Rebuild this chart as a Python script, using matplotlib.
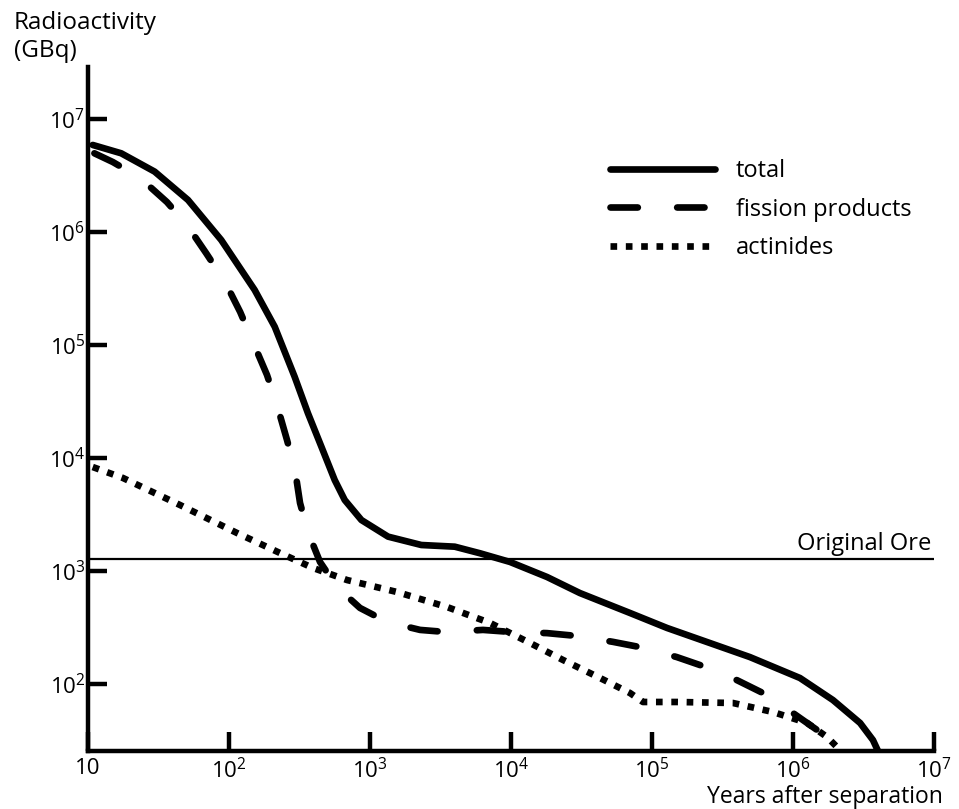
import matplotlib
matplotlib.use("Agg")
import matplotlib.pyplot as plt

plt.rcParams['font.family'] = ['Open Sans', 'DejaVu Sans']
plt.rcParams['mathtext.fontset'] = 'custom'
plt.rcParams['mathtext.rm'] = 'Open Sans'
plt.rcParams['mathtext.it'] = 'Open Sans:italic'
plt.rcParams['mathtext.bf'] = 'Open Sans:bold'

# values: years after separation -> radioactivity (GBq)
total_years = [10.8, 17.2, 29.7, 51.2, 88.1, 152, 211, 292, 363, 452, 562, 662, 869,
               1343, 2312, 3990, 6026, 9840, 1.80e4, 3.08e4, 6.98e4, 1.28e5, 4.95e5,
               1.12e6, 1.92e6, 2.99e6, 3.69e6, 4.01e6]
total_gbq = [5.89e6, 4.97e6, 3.42e6, 1.92e6, 8.49e5, 3.07e5, 1.45e5, 5.24e4, 2.49e4,
             1.26e4, 6380, 4246, 2825, 2014, 1698, 1641, 1435, 1202, 885, 638, 425, 313,
             173, 113, 72.1, 45.2, 31.9, 25.5]

fission_years = [11.1, 15.0, 23.4, 36.3, 50.4, 69.0, 93.8, 120, 148, 186, 219, 258, 294,
                 319, 363, 442, 583, 849, 1321, 2265, 3516, 6324, 1.03e4, 1.80e4, 2.94e4,
                 5.28e4, 8.22e4, 1.50e5, 2.30e5, 4.01e5, 6.12e5, 1.0e6, 1.48e6, 1.92e6]
fission_gbq = [4.97e6, 4.16e6, 3.01e6, 1.84e6, 1.15e6, 6.47e5, 3.61e5, 1.96e5, 1.06e5,
               5.43e4, 2.94e4, 1.44e4, 7830, 4000, 2213, 1202, 721, 471, 354, 301, 288,
               301, 288, 282, 266, 236, 212, 173, 144, 108, 83.2, 55.3, 39.2, 27.2]

actinide_years = [10.8, 17.7, 44.9, 114, 230, 394, 687, 1552, 3516, 7096, 1.36e4, 2.34e4,
                  4.28e4, 6.98e4, 8.63e4, 1.50e5, 3.75e5, 7.21e5, 1.26e6, 1.74e6, 2.15e6]
actinide_gbq = [8318, 6653, 3837, 2168, 1442, 1064, 832, 652, 480, 347, 231, 163, 113,
                83.2, 69.3, 69.3, 67.9, 56.5, 45.2, 34.0, 26.1]

original_ore = 1276

x_ticks = [10, 1e2, 1e3, 1e4, 1e5, 1e6, 1e7]
x_tick_labels = ['10', r'$10^{2}$', r'$10^{3}$', r'$10^{4}$', r'$10^{5}$', r'$10^{6}$', r'$10^{7}$']
y_ticks = [1e2, 1e3, 1e4, 1e5, 1e6, 1e7]
y_tick_labels = [r'$10^{2}$', r'$10^{3}$', r'$10^{4}$', r'$10^{5}$', r'$10^{6}$', r'$10^{7}$']

W, H = 959, 809
fig = plt.figure(figsize=(W / 100, H / 100), dpi=100)
ax = fig.add_axes([88 / W, 58 / H, (934 - 88) / W, (751 - 67) / H])

lw = 4.8
ax.plot(total_years, total_gbq, color='black', lw=lw, solid_capstyle='round',
        solid_joinstyle='round', label='total')
ax.plot(fission_years, fission_gbq, color='black', lw=lw, linestyle=(0, (4.1, 5.9)),
        dash_capstyle='round', dash_joinstyle='round', label='fission products')
ax.plot(actinide_years, actinide_gbq, color='black', lw=lw, linestyle=(0, (1.0, 1.3)),
        dash_capstyle='butt', label='actinides')

ax.axhline(original_ore, color='black', lw=1.6, zorder=1)
ax.annotate('Original Ore', xy=(1e7, original_ore), xytext=(-2, 6.5),
            textcoords='offset points', ha='right', va='baseline', fontsize=17)

ax.set_xscale('log')
ax.set_yscale('log')
ax.set_xlim(10, 1e7)
ax.set_ylim(10 ** 1.407, 10 ** 7.46)
ax.minorticks_off()
ax.set_xticks(x_ticks)
ax.set_xticklabels(x_tick_labels)
ax.set_yticks(y_ticks)
ax.set_yticklabels(y_tick_labels)
ax.tick_params(direction='in', length=14, width=3.2, labelsize=16, color='black')
ax.tick_params(axis='x', pad=5)
ax.tick_params(axis='y', pad=2)

for side in ['top', 'right']:
    ax.spines[side].set_visible(False)
for side in ['left', 'bottom']:
    ax.spines[side].set_linewidth(3.2)

ax.legend(loc='upper left', bbox_to_anchor=(610 / W, 1 - 159 / H),
          bbox_transform=fig.transFigure, frameon=False, fontsize=17,
          handlelength=4.45, handletextpad=0.89, labelspacing=0.62,
          borderpad=0, borderaxespad=0)

fig.text(14 / W, 1 - 11 / H, 'Radioactivity\n(GBq)', ha='left', va='top',
         fontsize=17.5, linespacing=1.2)
fig.text(943 / W, 1 - 803 / H, 'Years after separation', ha='right', va='baseline',
         fontsize=16.5)

fig.savefig('out.png', dpi=100)
